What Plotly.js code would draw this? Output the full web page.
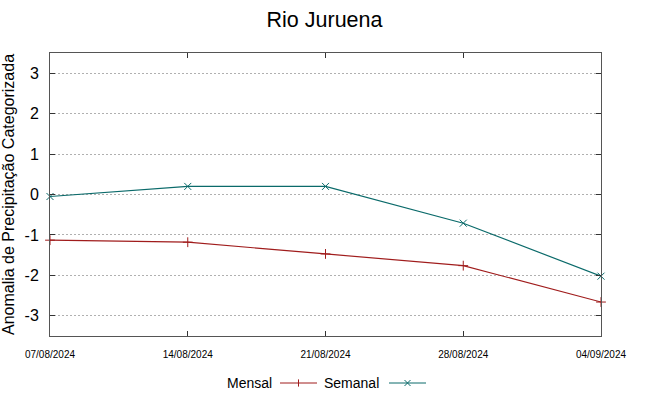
<!DOCTYPE html>
<html><head><meta charset="utf-8">
<script src="https://cdn.plot.ly/plotly-3.0.1.min.js"></script>
<style>html,body{margin:0;padding:0;background:#fff}#c{width:649px;height:396px}</style>
</head><body><div id="c"></div>
<script>
const dates = ["07/08/2024","14/08/2024","21/08/2024","28/08/2024","04/09/2024"];
const mensal = [-1.13, -1.18, -1.47, -1.76, -2.66];
const semanal = [-0.05, 0.2, 0.2, -0.71, -2.02];
const yTicks = [-3,-2,-1,0,1,2,3];
const cMensal = "#a01c1c", cSemanal = "#0a6a6a";
const font = "Liberation Sans, Arial, sans-serif";

const traces = [
  {x: dates, y: mensal, name: "Mensal", type: "scatter", mode: "lines+markers",
   line: {color: cMensal, width: 1.2}, marker: {symbol: "cross-thin-open", size: 7, line: {color: cMensal, width: 1}}, cliponaxis: false},
  {x: dates, y: semanal, name: "Semanal", type: "scatter", mode: "lines+markers",
   line: {color: cSemanal, width: 1.2}, marker: {symbol: "x-thin-open", size: 7, line: {color: cSemanal, width: 1}}, cliponaxis: false}
];

function legendShapes(x0, x1, yy, color, kind) {
  const s = [{type:"line", xref:"paper", yref:"paper", x0:x0, x1:x1, y0:yy, y1:yy, line:{color:color, width:1}}];
  const xm = (x0+x1)/2, dx = 3/551, dy = 3/283;
  if (kind === "+") {
    s.push({type:"line", xref:"paper", yref:"paper", x0:xm, x1:xm, y0:yy-dy*1.2, y1:yy+dy*1.2, line:{color:color, width:1}});
  } else {
    s.push({type:"line", xref:"paper", yref:"paper", x0:xm-dx, x1:xm+dx, y0:yy-dy, y1:yy+dy, line:{color:color, width:1}});
    s.push({type:"line", xref:"paper", yref:"paper", x0:xm-dx, x1:xm+dx, y0:yy+dy, y1:yy-dy, line:{color:color, width:1}});
  }
  return s;
}
// paper coords: plot area x 50..601 (551px), y 53..336 (283px)
const px = v => (v-50)/551, py = v => (336-v)/283;
const legY = py(383);

const layout = {
  width: 649, height: 396,
  margin: {l: 50, r: 48, t: 53, b: 60},
  paper_bgcolor: "#fff", plot_bgcolor: "#fff",
  showlegend: false,
  title: {text: "Rio Juruena", font: {family: font, size: 21.5, color: "#000"}, x: 0.5, xanchor: "center", y: 0.952, yanchor: "middle"},
  xaxis: {type: "category", range: [0, 4], tickvals: dates, ticktext: dates,
    showgrid: false, zeroline: false, showline: true, linecolor: "#555", linewidth: 1, mirror: "ticks",
    ticks: "inside", ticklen: 5, tickcolor: "#333", ticklabelstandoff: 9,
    tickfont: {family: font, size: 10, color: "#000"}},
  yaxis: {range: [-3.5, 3.5], tickvals: yTicks, ticktext: yTicks.map(String),
    showgrid: true, gridcolor: "#b0b0b0", griddash: "2px,2px", gridwidth: 1, zeroline: false,
    showline: true, linecolor: "#555", linewidth: 1, mirror: "ticks",
    ticks: "inside", ticklen: 5, tickcolor: "#333", ticklabelstandoff: 7,
    tickfont: {family: font, size: 16, color: "#000"},
    title: {text: "Anomalia de Precipitação Categorizada", font: {family: font, size: 16, color: "#000"}, standoff: 5}},
  annotations: [
    {text: "Mensal", xref: "paper", yref: "paper", x: px(274), y: legY, xanchor: "right", yanchor: "middle", showarrow: false, font: {family: font, size: 14, color: "#000"}},
    {text: "Semanal", xref: "paper", yref: "paper", x: px(381), y: legY, xanchor: "right", yanchor: "middle", showarrow: false, font: {family: font, size: 14, color: "#000"}}
  ],
  shapes: [].concat(legendShapes(px(280), px(317), legY, cMensal, "+"), legendShapes(px(389), px(426), legY, cSemanal, "x"))
};
Plotly.newPlot("c", traces, layout, {staticPlot: true, displayModeBar: false});
</script></body></html>
